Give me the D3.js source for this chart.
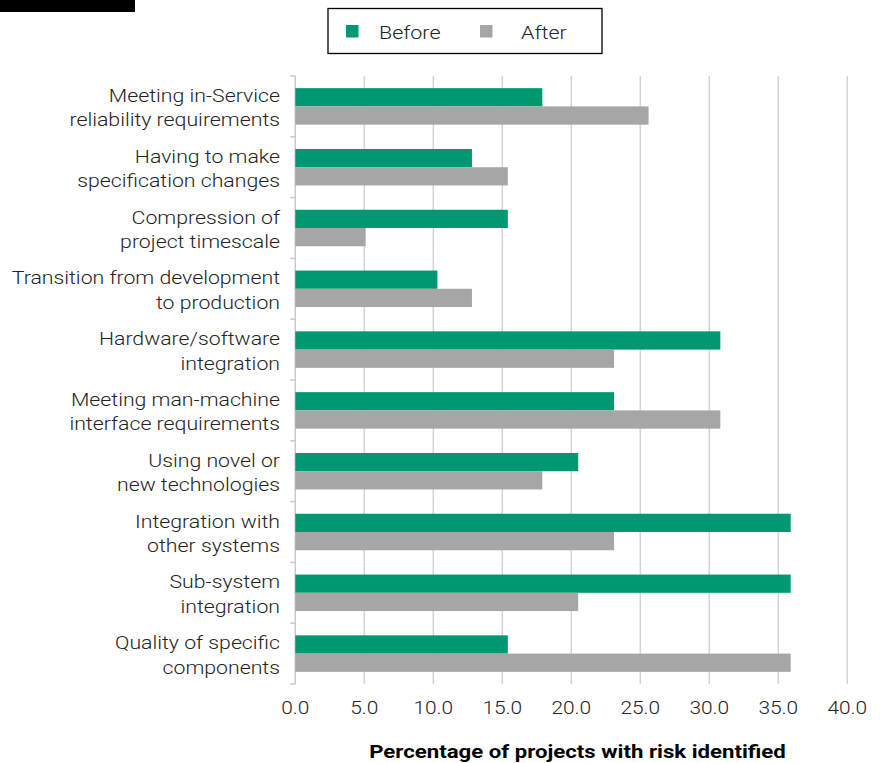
<!DOCTYPE html>
<html>
<head>
<meta charset="utf-8">
<script src="https://cdn.jsdelivr.net/npm/d3@7"></script>
<style>
  html, body { margin: 0; padding: 0; background: #fff; }
  svg { display: block; }
  text { font-family: Roboto, "Liberation Sans", Arial, sans-serif; }
</style>
</head>
<body>
<svg id="chart" width="880" height="763"></svg>
<script>
// Risk areas, listed top to bottom
const categories = [
  ["Meeting in-Service", "reliability requirements"],
  ["Having to make", "specification changes"],
  ["Compression of", "project timescale"],
  ["Transition from development", "to production"],
  ["Hardware/software", "integration"],
  ["Meeting man-machine", "interface requirements"],
  ["Using novel or", "new technologies"],
  ["Integration with", "other systems"],
  ["Sub-system", "integration"],
  ["Quality of specific", "components"]
];
const seriesNames = ["Before", "After"];
// Percentage of projects with the risk identified
const beforeValues = [17.9, 12.8, 15.4, 10.3, 30.8, 23.1, 20.5, 35.9, 35.9, 15.4];
const afterValues  = [25.6, 15.4, 5.1, 12.8, 23.1, 30.8, 17.9, 23.1, 20.5, 35.9];
const xTicks = [0, 5, 10, 15, 20, 25, 30, 35, 40];
const colors = { Before: "#009870", After: "#a6a6a6" };

const svg = d3.select("#chart");
const plotLeft = 295.3, plotRight = 847.3, plotTop = 76, plotBottom = 684;

const x = d3.scaleLinear().domain([0, 40]).range([plotLeft, plotRight]);
const y = d3.scaleBand().domain(d3.range(categories.length)).range([plotTop, plotBottom])
  .paddingInner(0.4).paddingOuter(0.2);
const ySub = d3.scaleBand().domain(seriesNames).range([0, y.bandwidth()]);

// text is set slightly wide
const place = (px, py, sx = 1.16) => `translate(${px},${py}) scale(${sx},1)`;

// corner block
svg.append("rect").attr("x", 0).attr("y", 0).attr("width", 135).attr("height", 12).attr("fill", "#000");

// vertical gridlines
svg.append("g").selectAll("line").data(xTicks.slice(1)).join("line")
  .attr("x1", d => x(d)).attr("x2", d => x(d))
  .attr("y1", plotTop).attr("y2", plotBottom)
  .attr("stroke", "#d4d4d4").attr("stroke-width", 1.5);

// category axis line with boundary ticks
const rowH = (plotBottom - plotTop) / categories.length;
svg.append("line").attr("x1", plotLeft).attr("x2", plotLeft).attr("y1", plotTop).attr("y2", plotBottom)
  .attr("stroke", "#c8c8c8").attr("stroke-width", 1.5);
svg.append("g").selectAll("line").data(d3.range(categories.length + 1)).join("line")
  .attr("x1", plotLeft - 5).attr("x2", plotLeft)
  .attr("y1", i => plotTop + i * rowH)
  .attr("y2", i => plotTop + i * rowH)
  .attr("stroke", "#c8c8c8").attr("stroke-width", 1.5);

// bars
const rows = categories.map((c, i) => ({ i, Before: beforeValues[i], After: afterValues[i] }));
const groups = svg.append("g").selectAll("g").data(rows).join("g")
  .attr("transform", d => `translate(0,${y(d.i)})`);
groups.selectAll("rect").data(d => seriesNames.map(s => ({ s, v: d[s] }))).join("rect")
  .attr("x", x(0))
  .attr("y", d => ySub(d.s))
  .attr("width", d => x(d.v) - x(0))
  .attr("height", ySub.bandwidth())
  .attr("fill", d => colors[d.s]);

// category labels (two lines each)
const labelG = svg.append("g");
categories.forEach((lines, i) => {
  const cy = y(i) + y.bandwidth() / 2;
  lines.forEach((line, k) => {
    labelG.append("text")
      .attr("transform", place(280, cy - 4.5 + k * 24.5, 1.15))
      .attr("text-anchor", "end")
      .attr("font-size", 18.5).attr("font-weight", 300).attr("fill", "#222")
      .text(line);
  });
});

// x tick labels
svg.append("g").selectAll("text").data(xTicks).join("text")
  .attr("transform", d => place(x(d), 714))
  .attr("text-anchor", "middle").attr("font-size", 18).attr("font-weight", 300)
  .attr("fill", "#222")
  .text(d => d.toFixed(1));

// axis title
svg.append("text").attr("transform", place(577.5, 758, 1.2)).attr("text-anchor", "middle")
  .attr("font-family", "'Liberation Sans', Arial, sans-serif")
  .attr("font-size", 18.5).attr("font-weight", "bold").attr("fill", "#000")
  .text("Percentage of projects with risk identified");

// legend
const lg = svg.append("g");
lg.append("rect").attr("x", 328).attr("y", 8.5).attr("width", 274).attr("height", 45)
  .attr("fill", "#fff").attr("stroke", "#000").attr("stroke-width", 1.3);
const legendPos = { Before: { box: 346, text: 379 }, After: { box: 480, text: 521 } };
seriesNames.forEach(s => {
  lg.append("rect").attr("x", legendPos[s].box).attr("y", 25).attr("width", 12.5).attr("height", 12.5)
    .attr("fill", colors[s]);
  lg.append("text").attr("transform", place(legendPos[s].text, 38.5))
    .attr("font-size", 18.5).attr("font-weight", 300).attr("fill", "#222").text(s);
});
</script>
</body>
</html>
